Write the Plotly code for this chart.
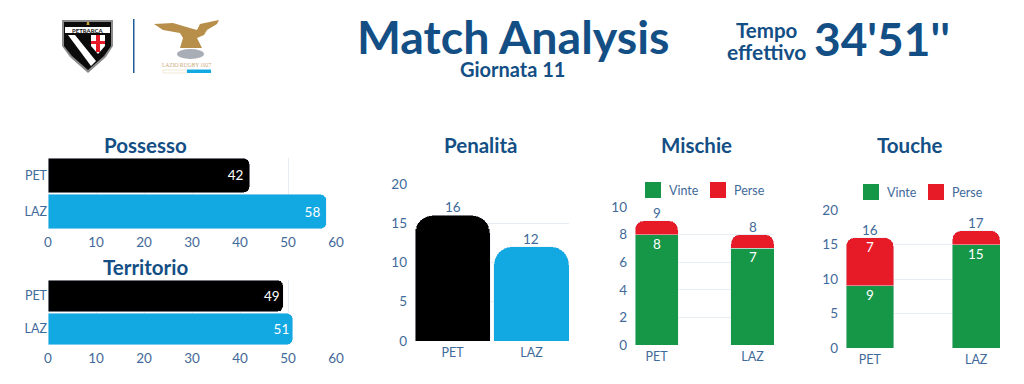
import plotly.graph_objects as go

W, H = 1024, 384
TEAMS = ["PET", "LAZ"]
possesso = [42, 58]
territorio = [49, 51]
penalita = [16, 12]
mischie_vinte = [8, 7]
mischie_perse = [1, 1]
mischie_totali = [9, 8]
mischie_perse_labels = ["", ""]
touche_vinte = [9, 15]
touche_perse = [7, 2]
touche_totali = [16, 17]
touche_perse_labels = ["7", ""]

NAVY = "#134f85"
TICK = "#3f6a9a"
GRID = "#e9eef5"
BLACK = "#000000"
SKY = "#12a9e2"
GREEN = "#169647"
RED = "#e71a27"
FONT = "Lato"
NUM = 13.5


def px(x):
    return x / W


def py(y):
    return 1 - y / H


def path(points, close=True):
    s = "M " + " L ".join(f"{px(a):.5f},{py(b):.5f}" for a, b in points)
    return s + (" Z" if close else "")


def poly(points, fill, line=None, width=0):
    return dict(type="path", xref="paper", yref="paper", path=path(points), fillcolor=fill,
                line=dict(color=line or fill, width=width), layer="above")


fig = go.Figure()
annotations = []
shapes = []


def text(x, y, s, size, color=NAVY, bold=True, family=FONT, anchor="center"):
    annotations.append(dict(xref="paper", yref="paper", x=px(x), y=py(y), text=f"<b>{s}</b>" if bold else s,
                            showarrow=False, xanchor=anchor, yanchor="middle",
                            font=dict(size=size, color=color, family=family)))


def value_label(xr, yr, x, y, s, color, anchor, shift):
    annotations.append(dict(xref=xr, yref=yr, x=x, y=y, text=str(s), showarrow=False, yanchor=anchor, yshift=shift,
                            font=dict(size=NUM, color=color, family=FONT)))


# ---------- header ----------
text(513, 36, "Match Analysis", 46.5)
text(512, 69, "Giornata 11", 20)
text(767, 30, "Tempo", 20.5)
text(766, 51, "effettivo", 21)
text(882, 38, "34'51''", 46)
for x, y, s in [(145, 145, "Possesso"), (145, 267, "Territorio"), (480, 145, "Penalità"),
                (696, 145, "Mischie"), (910, 145, "Touche")]:
    text(x, y, s, 20.5)

# ---------- logos ----------
shield = [(62, 20), (113, 20), (113, 46), (106, 57), (88, 73), (70, 57), (62, 46)]
inner = [(64, 22), (111, 22), (111, 46), (104, 56), (88, 70), (72, 56), (64, 46)]
shapes += [poly(shield, "#8a8a8a"), poly(inner, "#0b0b0b"),
           poly([(65, 27), (110, 27), (110, 33), (65, 33)], "#ffffff"),
           poly([(68, 35), (75, 35), (96, 61), (91, 66)], "#ffffff"),
           poly([(91, 35), (105, 35), (105, 46), (98, 54), (91, 46)], "#ffffff"),
           poly([(96, 35), (100, 35), (100, 41), (105, 41), (105, 44), (100, 44), (100, 52),
                 (96, 52), (96, 44), (91, 44), (91, 41), (96, 41)], RED),
           poly([(87, 22), (89, 22), (89.5, 25), (86.5, 25)], "#c9a227"),
           poly([(133, 19), (134.5, 19), (134.5, 73), (133, 73)], "#1f5f99")]
text(88, 30, "PETRARCA", 6, color="#111111")
shapes += [poly([(154, 24), (173, 23), (183, 26), (197, 30), (200, 24), (219, 20), (217, 24), (207, 30),
                 (204, 35), (197, 38), (202, 48), (180, 48), (183, 38), (180, 33), (163, 30)], "#b88f4a"),
           dict(type="circle", xref="paper", yref="paper", x0=px(177), x1=px(204), y0=py(59), y1=py(49),
                fillcolor="#a9adb5", line=dict(width=0), layer="above"),
           poly([(163, 70), (187, 70), (187, 73), (163, 73)], "#ffffff", "#e8dcc6", 0.7),
           poly([(187, 69.5), (211, 69.5), (211, 73), (187, 73)], SKY)]
text(187, 65, "LAZIO RUGBY 1927", 5.5, color="#c8a774", bold=False, family="Liberation Serif")


# ---------- charts ----------
def axis_common():
    return dict(showline=False, zeroline=False, gridcolor=GRID, gridwidth=1, color=TICK,
                tickfont=dict(size=NUM, color=TICK, family=FONT))


def setup(n, left, right, top, bottom, vrange, dtick, horizontal=False, cat_range=None):
    xa = "xaxis" + (str(n) if n > 1 else "")
    ya = "yaxis" + (str(n) if n > 1 else "")
    dom_x = [px(left), px(right)]
    dom_y = [py(bottom), py(top)]
    val = axis_common() | dict(range=vrange, dtick=dtick, tick0=0, showgrid=True)
    cat = axis_common() | dict(type="category", categoryorder="array", categoryarray=TEAMS, range=cat_range,
                               showgrid=False, tickfont=dict(size=12.5, color=TICK, family=FONT))
    if horizontal:
        val |= dict(domain=dom_x, anchor=f"y{n if n > 1 else ''}", ticklabelstandoff=3)
        cat |= dict(domain=dom_y, anchor=f"x{n if n > 1 else ''}", autorange=None, ticklabelstandoff=0)
        fig.update_layout({xa: val, ya: cat})
    else:
        val |= dict(domain=dom_y, anchor=f"x{n if n > 1 else ''}", ticklabelstandoff=7)
        cat |= dict(domain=dom_x, anchor=f"y{n if n > 1 else ''}", ticklabelstandoff=2)
        fig.update_layout({xa: cat, ya: val})
    return f"x{n if n > 1 else ''}", f"y{n if n > 1 else ''}"


def hbars(n, values, top, bottom):
    xr, yr = setup(n, 48, 336, top, bottom, [0, 60], 10, True, [1.5 - 0.02, -0.5 + 0.02])
    fig.add_trace(go.Bar(x=values, y=TEAMS, orientation="h", xaxis=xr, yaxis=yr, width=0.95, showlegend=False,
                         marker=dict(color=[BLACK, SKY], cornerradius=6),
                         text=values, textposition="inside", insidetextanchor="end", textangle=0,
                         constraintext="none", textfont=dict(size=NUM, color="#ffffff", family=FONT)))


hbars(1, possesso, 158, 229)
hbars(2, territorio, 280, 345)

# Penalità
xr, yr = setup(3, 415, 569, 184, 341, [0, 20], 5, False, [-0.475, 1.475])
fig.add_trace(go.Bar(x=TEAMS, y=penalita, xaxis=xr, yaxis=yr, width=0.95, showlegend=False,
                     marker=dict(color=[BLACK, SKY], cornerradius=18)))
for team, value in zip(TEAMS, penalita):
    value_label(xr, yr, team, value, value, TICK, "bottom", -2)


def stacked(n, left, right, top, bottom, vmax, dtick, won, lost, totals, lost_labels, lx, ly):
    xr, yr = setup(n, left, right, top, bottom, [0, vmax], dtick, False, [-0.224, 1.224])
    fig.add_trace(go.Bar(x=TEAMS, y=won, xaxis=xr, yaxis=yr, width=0.448, name="Vinte", showlegend=False,
                         marker=dict(color=GREEN, cornerradius=9)))
    fig.add_trace(go.Bar(x=TEAMS, y=lost, xaxis=xr, yaxis=yr, width=0.448, name="Perse", showlegend=False,
                         marker=dict(color=RED, cornerradius=9)))
    for i, (name, colour) in enumerate([("Vinte", GREEN), ("Perse", RED)]):
        sx = lx + i * 65
        shapes.append(poly([(sx, ly - 8), (sx + 16, ly - 8), (sx + 16, ly + 8), (sx, ly + 8)], colour))
        text(sx + 22, ly, name, 12.5, color=TICK, bold=False, anchor="left")
    for team, w, total, lost_label in zip(TEAMS, won, totals, lost_labels):
        value_label(xr, yr, team, w, w, "#ffffff", "top", 1)
        if lost_label:
            value_label(xr, yr, team, total, lost_label, "#ffffff", "top", 1)
        value_label(xr, yr, team, total, total, TICK, "bottom", -2)


stacked(4, 635, 774, 207, 345, 10, 2, mischie_vinte, mischie_perse, mischie_totali, mischie_perse_labels, 645, 190)
stacked(5, 846, 1000, 210, 348, 20, 5, touche_vinte, touche_perse, touche_totali, touche_perse_labels, 863, 192)

fig.update_layout(width=W, height=H, margin=dict(l=0, r=0, t=0, b=0, pad=0, autoexpand=False),
                  paper_bgcolor="#ffffff", plot_bgcolor="rgba(0,0,0,0)", barmode="stack",
                  annotations=annotations, shapes=shapes, showlegend=False, font=dict(family=FONT, color=TICK))
fig.write_html("out.html", config=dict(displayModeBar=False),
               post_script="document.body.style.margin='0';document.body.style.overflow='hidden';")
